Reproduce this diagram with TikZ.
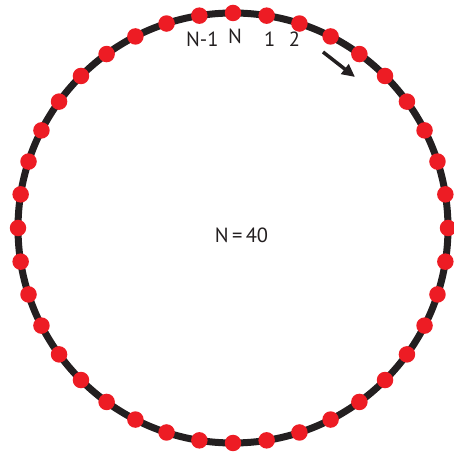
\documentclass[tikz,border=0pt]{standalone}
\usepackage{fontspec}
\setmainfont{PT Sans}
\usepackage{xcolor}
\usetikzlibrary{arrows.meta,positioning}
\definecolor{beadred}{RGB}{237,28,36}
\definecolor{ink}{RGB}{35,31,32}

\begin{document}
\begin{tikzpicture}[
    x=1pt,y=1pt,
    ring/.style={draw=ink,line width=7pt},
    bead/.style={circle,fill=beadred,inner sep=0pt,minimum size=16.5pt},
    lbl/.style={inner sep=0pt,text=ink,font=\fontsize{20.5}{22}\selectfont},
    dir/.style={draw=ink,line width=3.5pt,-{Triangle[length=13pt,width=12pt]}}
]
\useasboundingbox (0,0) rectangle (454,455);
\coordinate (c) at (233,227);
\draw[ring] (c) circle (215);
% beads, numbered clockwise from the top
\foreach \i in {1,...,40}
  \node[bead] (d\i) at ([shift={(90-9*\i:215)}]c) {};
\node[lbl,below=7pt of d40,xshift=2pt] (nN) {N};
\node[lbl,below=8pt of d39,xshift=3pt] (nNm) {N-1};
\node[lbl,below=8pt of d1,xshift=3pt] (n1) {1};
\node[lbl,below=0pt of d2,xshift=-5pt] (n2) {2};
% direction of counting
\coordinate (a0) at (323,403);
\coordinate (a1) at (355,378);
\draw[dir] (a0) -- (a1);
\node[lbl] (total) at (241.5,220) {N\,=\,40};
\end{tikzpicture}
\end{document}
